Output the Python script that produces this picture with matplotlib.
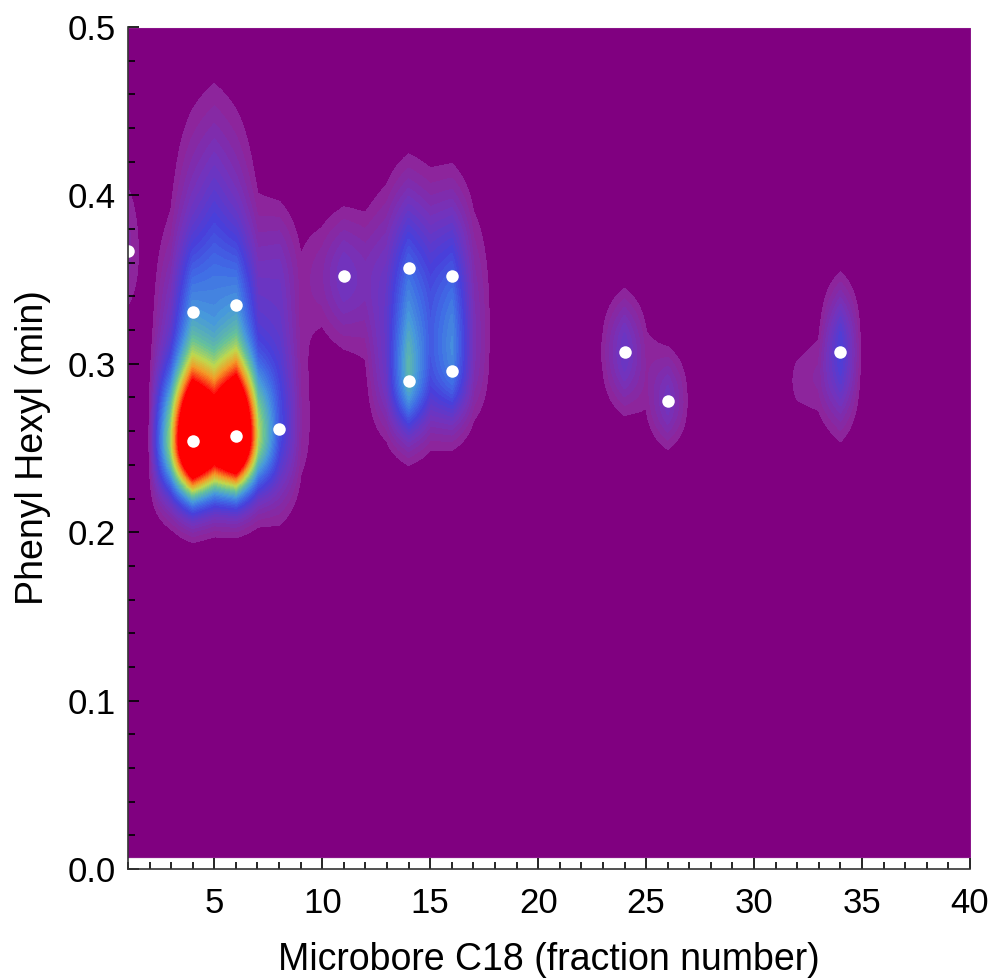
import numpy as np
import matplotlib
matplotlib.use("Agg")
import matplotlib.pyplot as plt
from matplotlib.colors import LinearSegmentedColormap
from matplotlib.ticker import MultipleLocator, FormatStrFormatter

plt.rcParams['font.family'] = ['Liberation Sans', 'DejaVu Sans']

# Fraction numbers (x grid of the map)
fractions = np.arange(1, 41)

# Peak apex markers (white dots)
peak_fraction = [1, 4, 6, 4, 6, 8, 11, 14, 16, 14, 16, 24, 26, 34]
peak_time = [0.367, 0.331, 0.335, 0.254, 0.257, 0.261, 0.352, 0.357,
             0.352, 0.290, 0.296, 0.307, 0.278, 0.307]

# Intensity components
comp_fraction = [1, 4, 6, 4, 6, 5, 8, 8, 11, 14, 16, 14, 16, 14.5, 24, 26, 34, 32.5]
comp_time = [0.367, 0.254, 0.257, 0.331, 0.335, 0.370, 0.262, 0.350, 0.352,
             0.357, 0.352, 0.290, 0.296, 0.335, 0.307, 0.278, 0.307, 0.290]
comp_height = [0.07, 1.6, 1.6, 0.25, 0.25, 0.22, 0.24, 0.12, 0.14,
               0.18, 0.18, 0.42, 0.30, 0.15, 0.17, 0.14, 0.24, 0.08]
comp_width_x = [0.3, 0.74, 0.72, 0.7, 0.7, 1.0, 0.6, 0.6, 0.9,
                0.65, 0.6, 0.6, 0.6, 1.5, 0.6, 0.55, 0.45, 0.5]
comp_width_down = [0.03, 0.022, 0.022, 0.03, 0.03, 0.05, 0.03, 0.04, 0.025,
                   0.03, 0.03, 0.022, 0.022, 0.04, 0.022, 0.018, 0.028, 0.018]
comp_width_up = [0.035, 0.032, 0.032, 0.03, 0.03, 0.052, 0.04, 0.03, 0.025,
                 0.035, 0.035, 0.03, 0.03, 0.04, 0.022, 0.02, 0.025, 0.018]

times = np.arange(0.007, 0.5001, 0.0025)
X, Y = np.meshgrid(fractions, times)
Z = np.zeros_like(X, dtype=float)
for fx, ty, h, sx, sd, su in zip(comp_fraction, comp_time, comp_height,
                                 comp_width_x, comp_width_down, comp_width_up):
    sy = np.where(Y < ty, sd, su)
    Z += h * np.exp(-(X - fx) ** 2 / (2 * sx ** 2)) * np.exp(-(Y - ty) ** 2 / (2 * sy ** 2))

cmap = LinearSegmentedColormap.from_list("map", [
    (0.00, (0.56, 0.14, 0.60)),
    (0.10, (0.45, 0.20, 0.74)),
    (0.22, (0.28, 0.25, 0.86)),
    (0.32, (0.25, 0.42, 0.90)),
    (0.42, (0.28, 0.60, 0.86)),
    (0.55, (0.40, 0.76, 0.60)),
    (0.68, (0.75, 0.85, 0.30)),
    (0.82, (0.96, 0.60, 0.15)),
    (1.00, (1.00, 0.05, 0.05)),
])
cmap.set_over((1.0, 0.0, 0.0))

fig = plt.figure(figsize=(9.95, 9.8), dpi=100)
ax = fig.add_axes([0.1286, 0.1133, 0.8462, 0.8591])

floor = 0.04
levels = np.linspace(floor, 1.0, 45)
bg = ax.contourf(X, Y, Z, levels=[-1, floor], colors=['#800080'])
cs = ax.contourf(X, Y, Z, levels=levels, cmap=cmap, extend='max')
for c in (bg, cs):
    c.set_edgecolor('face')
    c.set_linewidth(0.6)
ax.plot(peak_fraction, peak_time, 'o', color='white', markersize=9, markeredgewidth=0)

ax.set_xlim(1, 40)
ax.set_ylim(0, 0.5)
ax.xaxis.set_major_locator(MultipleLocator(5))
ax.xaxis.set_minor_locator(MultipleLocator(1))
ax.yaxis.set_major_locator(MultipleLocator(0.1))
ax.yaxis.set_minor_locator(MultipleLocator(0.02))
ax.yaxis.set_major_formatter(FormatStrFormatter('%.1f'))
ax.tick_params(which='both', direction='in', top=False, right=False, labelsize=25, width=1.2)
ax.tick_params(which='major', length=8)
ax.tick_params(which='minor', length=5)
ax.tick_params(axis='x', pad=13)
ax.tick_params(axis='y', pad=9)
for s in ['top', 'right']:
    ax.spines[s].set_visible(False)
for s in ['left', 'bottom']:
    ax.spines[s].set_linewidth(1.2)
    ax.spines[s].set_color('#333333')

ax.set_xlabel('Microbore C18 (fraction number)', fontsize=27, labelpad=16)
ax.set_ylabel('Phenyl Hexyl (min)', fontsize=27, labelpad=12)

fig.savefig('out.png', dpi=100)
